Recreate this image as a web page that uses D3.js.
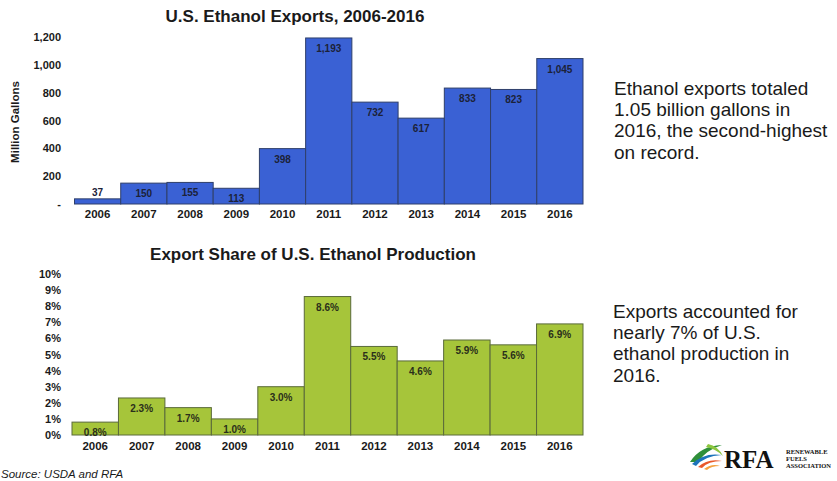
<!DOCTYPE html>
<html>
<head>
<meta charset="utf-8">
<script src="https://cdn.jsdelivr.net/npm/d3@7"></script>
<style>
  html, body { margin: 0; padding: 0; background: #fff; }
  svg { display: block; font-family: "Liberation Sans", Arial, sans-serif; }
</style>
</head>
<body>
<svg id="chart" width="837" height="481"></svg>
<script>
// ---- data ----
const years = ["2006","2007","2008","2009","2010","2011","2012","2013","2014","2015","2016"];
const exportsMG = [37, 150, 155, 113, 398, 1193, 732, 617, 833, 823, 1045];
const sharePct = [0.8, 2.3, 1.7, 1.0, 3.0, 8.6, 5.5, 4.6, 5.9, 5.6, 6.9];
const exportTicks = [0, 200, 400, 600, 800, 1000, 1200];
const shareTicks = [0, 1, 2, 3, 4, 5, 6, 7, 8, 9, 10];
const titleTop = "U.S. Ethanol Exports, 2006-2016";
const titleBottom = "Export Share of U.S. Ethanol Production";
const noteTop = ["Ethanol exports totaled", "1.05 billion gallons in", "2016, the second-highest", "on record."];
const noteBottom = ["Exports accounted for", "nearly 7% of U.S.", "ethanol production in", "2016."];
const sourceText = "Source: USDA and RFA";

const svg = d3.select("#chart");

function drawPanel(opts) {
  const g = svg.append("g");
  const x = d3.scaleBand().domain(years).range(opts.xRange).padding(0);
  const y = d3.scaleLinear().domain(opts.yDomain).range(opts.yRange);

  // title
  g.append("text")
    .attr("x", opts.titleX).attr("y", opts.titleY)
    .attr("text-anchor", "middle")
    .attr("font-weight", "bold").attr("font-size", 17)
    .attr("fill", "#1a1a1a")
    .text(opts.title);

  // y axis
  const yAxis = d3.axisLeft(y).tickValues(opts.ticks).tickSize(0).tickPadding(0).tickFormat(opts.tickFormat);
  const ya = g.append("g").attr("transform", `translate(${opts.yLabelX},0)`).call(yAxis);
  ya.select(".domain").remove();
  ya.selectAll("text").attr("font-size", 11).attr("font-weight", "bold").attr("fill", "#1a1a1a")
    .attr("font-family", "Liberation Sans, Arial, sans-serif");

  // x axis
  const xAxis = d3.axisBottom(x).tickSize(0).tickPadding(0);
  const xa = g.append("g").attr("transform", `translate(0,${opts.xLabelY})`).call(xAxis);
  xa.select(".domain").remove();
  xa.selectAll("text").attr("font-size", 11.5).attr("font-weight", "bold").attr("fill", "#1a1a1a")
    .attr("font-family", "Liberation Sans, Arial, sans-serif");

  // bars
  g.selectAll("rect.bar").data(opts.values).join("rect")
    .attr("class", "bar")
    .attr("x", (d, i) => x(years[i]))
    .attr("width", x.bandwidth())
    .attr("y", d => y(d))
    .attr("height", d => y(0) - y(d))
    .attr("fill", opts.fill)
    .attr("stroke", opts.stroke)
    .attr("stroke-width", 1);

  // value labels
  g.selectAll("text.val").data(opts.values).join("text")
    .attr("class", "val")
    .attr("x", (d, i) => x(years[i]) + x.bandwidth() / 2)
    .attr("y", d => opts.labelY(y, d))
    .attr("text-anchor", "middle")
    .attr("font-size", 10).attr("font-weight", "bold")
    .attr("fill", opts.labelColor)
    .text(opts.labelFormat);
  return { x, y };
}

// top panel
drawPanel({
  title: titleTop, titleX: 295, titleY: 22,
  xRange: [74.5, 583], yDomain: [0, 1200], yRange: [204, 37],
  ticks: exportTicks,
  tickFormat: d => d === 0 ? "-" : d3.format(",")(d),
  yLabelX: 61, xLabelY: 210,
  values: exportsMG,
  fill: "#3a61d4", stroke: "#2f3f6a",
  labelColor: "#1c2238",
  labelFormat: d => d3.format(",")(d),
  labelY: (y, d) => d < 100 ? y(d) - 3 : y(d) + 14
});

// y-axis title for top
svg.append("text")
  .attr("transform", "translate(19,122) rotate(-90)")
  .attr("text-anchor", "middle")
  .attr("font-size", 11.5).attr("font-weight", "bold").attr("fill", "#1a1a1a")
  .text("Million Gallons");

// bottom panel
drawPanel({
  title: titleBottom, titleX: 313, titleY: 260,
  xRange: [72, 583], yDomain: [0, 10], yRange: [435, 274],
  ticks: shareTicks,
  tickFormat: d => d + "%",
  yLabelX: 61, xLabelY: 442,
  values: sharePct,
  fill: "#a6c53a", stroke: "#5a6a3a",
  labelColor: "#2a2f1a",
  labelFormat: d => d.toFixed(1) + "%",
  labelY: (y, d) => y(d) + 14
});

// annotation notes
function note(lines, x0, y0) {
  svg.append("g").selectAll("text").data(lines).join("text")
    .attr("x", x0).attr("y", (d, i) => y0 + i * 21.2)
    .attr("font-size", 19).attr("fill", "#1a1a1a")
    .text(d => d);
}
note(noteTop, 614, 95);
note(noteBottom, 613, 318);

// source
svg.append("text")
  .attr("x", 1).attr("y", 478)
  .attr("font-size", 11.5).attr("font-style", "italic").attr("fill", "#1a1a1a")
  .text(sourceText);

// RFA logo
const logo = svg.append("g");
logo.append("path").attr("d", "M690,462 Q700,446 722,445 Q706,450 698,462 Z").attr("fill", "#2f8f3a");
logo.append("path").attr("d", "M708,444 Q718,446 723,456 Q716,449 706,447 Z").attr("fill", "#8cc63f");
logo.append("path").attr("d", "M692,464 Q704,452 722,455 Q704,456 696,466 Z").attr("fill", "#1d74bb");
logo.append("path").attr("d", "M698,467 Q708,458 722,461 Q708,461 702,468 Z").attr("fill", "#e8582a");
logo.append("path").attr("d", "M704,469 Q712,463 720,466 Q711,466 707,470 Z").attr("fill", "#f4a340");
logo.append("text").attr("x", 724).attr("y", 468)
  .attr("font-family", "Liberation Serif, 'DejaVu Serif', serif")
  .attr("font-size", 25).attr("font-weight", "bold").attr("fill", "#111")
  .text("RFA");
const small = ["RENEWABLE", "FUELS", "ASSOCIATION"];
logo.selectAll("text.sm").data(small).join("text").attr("class", "sm")
  .attr("x", 786).attr("y", (d, i) => 454 + i * 7)
  .attr("font-family", "Liberation Serif, 'DejaVu Serif', serif")
  .attr("font-size", 6.5).attr("font-weight", "bold").attr("fill", "#111")
  .text(d => d);
</script>
</body>
</html>
